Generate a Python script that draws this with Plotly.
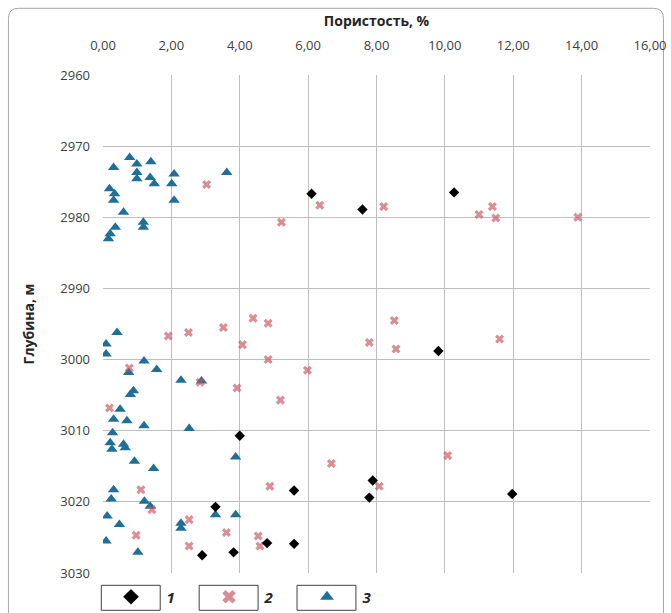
import plotly.graph_objects as go

# Series 1 (black diamonds): porosity %, depth m
s1_por = [6.10, 7.59, 10.27, 9.81, 4.00, 7.89, 7.79, 11.97, 5.59, 3.29, 4.80, 5.59, 2.90, 3.82]
s1_dep = [2976.7, 2978.9, 2976.5, 2998.8, 3010.7, 3017.0, 3019.4, 3018.9, 3018.4, 3020.7, 3025.8, 3025.9, 3027.5, 3027.1]

# Series 2 (red crosses)
s2_por = [3.03, 6.34, 8.21, 5.22, 11.00, 11.39, 11.49, 13.89,
          1.91, 2.50, 3.52, 4.39, 4.83, 4.08, 4.83, 5.98, 3.92, 5.19, 7.79, 8.52, 8.57, 11.60, 2.84, 0.77, 0.19,
          6.68, 10.08, 1.11, 1.43, 4.88, 8.08, 2.52, 3.61, 4.54, 4.59, 0.97, 2.52]
s2_dep = [2975.4, 2978.3, 2978.5, 2980.7, 2979.6, 2978.5, 2980.1, 2980.0,
          2996.7, 2996.2, 2995.5, 2994.2, 2994.9, 2997.9, 3000.0, 3001.5, 3004.0, 3005.7, 2997.6, 2994.5, 2998.5, 2997.1, 3003.2, 3001.2, 3006.8,
          3014.6, 3013.5, 3018.3, 3021.1, 3017.8, 3017.8, 3022.5, 3024.3, 3024.8, 3026.2, 3024.7, 3026.2]

# Series 3 (blue triangles)
s3_por = [0.78, 0.31, 0.99, 1.40, 0.99, 0.99, 1.38, 1.50, 2.08, 2.01, 2.08, 3.62, 0.19, 0.31, 0.34, 0.60, 1.18, 1.18, 0.36, 0.21, 0.16,
          0.41, 0.09, 0.09, 1.20, 1.57, 0.75, 2.28, 2.88, 0.89, 0.80, 0.50, 0.31, 0.70, 1.20, 2.52, 0.28, 0.21, 0.60,
          0.26, 0.65, 0.92, 1.48, 3.88, 0.31, 0.24, 1.21, 1.38, 0.12, 0.48, 0.09, 1.02, 2.28, 2.28, 3.29, 3.88]
s3_dep = [2971.6, 2973.0, 2972.5, 2972.2, 2973.7, 2974.6, 2974.4, 2975.3, 2973.9, 2975.3, 2977.6, 2973.7, 2976.0, 2977.6, 2976.7, 2979.3, 2980.7, 2981.4, 2981.4, 2982.3, 2983.0,
          2996.2, 2997.8, 2999.2, 3000.2, 3001.4, 3001.8, 3002.9, 3003.0, 3004.4, 3004.9, 3007.0, 3008.4, 3008.6, 3009.3, 3009.7, 3010.3, 3011.7, 3011.9,
          3012.6, 3012.4, 3014.3, 3015.3, 3013.7, 3018.3, 3019.6, 3019.9, 3020.6, 3022.0, 3023.2, 3025.5, 3027.1, 3023.7, 3023.0, 3021.8, 3021.8]

series_names = ["1", "2", "3"]
x_ticks = [0, 2, 4, 6, 8, 10, 12, 14, 16]
y_ticks = [2960, 2970, 2980, 2990, 3000, 3010, 3020, 3030]

FONT = "Open Sans"
pad = "\u00a0" * 4

fig = go.Figure()
fig.add_trace(go.Scatter(x=s3_por, y=s3_dep, mode="markers", name=pad + "<b><i>" + series_names[2] + "</i></b>",
                         marker=dict(symbol="triangle-up", size=10, color="#1f6f98")))
fig.add_trace(go.Scatter(x=s2_por, y=s2_dep, mode="markers", name=pad + "<b><i>" + series_names[1] + "</i></b>",
                         marker=dict(symbol="x", size=8, color="rgba(200,80,90,0.65)", line=dict(width=0))))
fig.add_trace(go.Scatter(x=s1_por, y=s1_dep, mode="markers", name=pad + "<b><i>" + series_names[0] + "</i></b>",
                         marker=dict(symbol="diamond", size=8, color="black")))

L, R, T, B = 102.7, 650.5, 74.7, 572.7
W, H = 671, 613
pw, ph = R - L, B - T

def px(x):
    return (x - L) / pw

def py(y):
    return (B - y) / ph

shapes = []
# outer rounded frame
x0, x1, y0, y1, r = 8, 664, 8, 640, 10
path = (f"M {px(x0+r)},{py(y0)} L {px(x1-r)},{py(y0)} Q {px(x1)},{py(y0)} {px(x1)},{py(y0+r)} "
        f"L {px(x1)},{py(y1)} L {px(x0)},{py(y1)} L {px(x0)},{py(y0+r)} Q {px(x0)},{py(y0)} {px(x0+r)},{py(y0)} Z")
shapes.append(dict(type="path", xref="paper", yref="paper", path=path,
                   line=dict(color="#a6a6a6", width=1), layer="below"))
# legend boxes
for bx in (101, 199, 297):
    shapes.append(dict(type="rect", xref="paper", yref="paper",
                       x0=px(bx), x1=px(bx + 59), y0=py(585), y1=py(610),
                       line=dict(color="#404040", width=1)))

fig.update_layout(
    width=W, height=H,
    margin=dict(l=L, r=W - R, t=T, b=H - B, autoexpand=False),
    paper_bgcolor="white", plot_bgcolor="white",
    separators=", ",
    font=dict(family=FONT, size=12, color="#404040"),
    showlegend=True,
    legend=dict(orientation="h", xref="container", yref="container",
                x=111 / W, y=1 - 597 / H, xanchor="left", yanchor="middle",
                traceorder="reversed", entrywidth=53, entrywidthmode="pixels",
                font=dict(family=FONT, size=15, color="#262626"),
                bgcolor="rgba(0,0,0,0)", itemsizing="constant"),
    shapes=shapes,
    xaxis=dict(side="top", range=[0, 16], tickvals=x_ticks, tickformat=".2f",
               showgrid=True, gridcolor="#bfbfbf", gridwidth=1, zeroline=False,
               showline=False, ticks="", ticklabelstandoff=21, tickfont=dict(size=13, color="#404040"),
               title=dict(text="<b>Пористость, %</b>", font=dict(size=14, color="#262626"), standoff=6)),
    yaxis=dict(range=[3030, 2960], tickvals=y_ticks, tickformat="d",
               showgrid=True, gridcolor="#bfbfbf", gridwidth=1, zeroline=False,
               showline=False, ticks="", ticklabelstandoff=12, tickfont=dict(size=13, color="#404040"),
               title=dict(text="<b>Глубина, м</b>", font=dict(size=14, color="#262626"), standoff=22)),
)

fig.write_html("out.html", config={"displayModeBar": False},
               post_script="document.body.style.margin='0';document.body.style.padding='0';")
